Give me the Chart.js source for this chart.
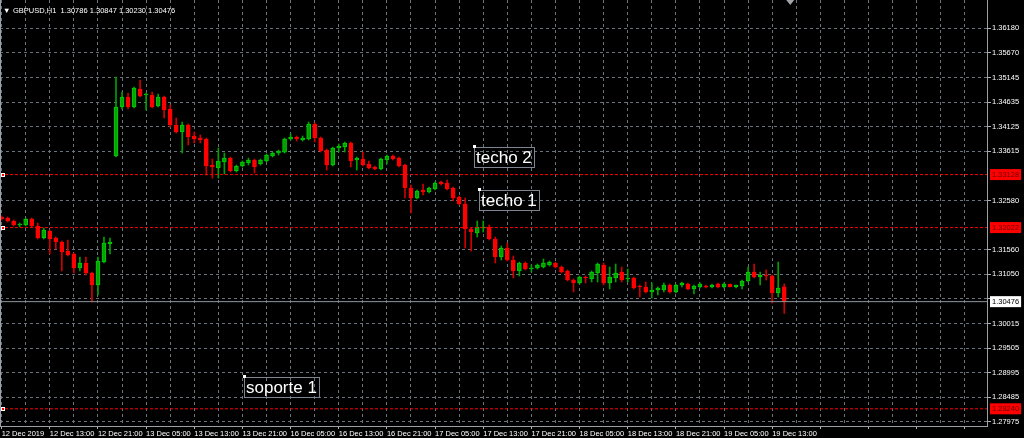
<!DOCTYPE html>
<html>
<head>
<meta charset="utf-8">
<title>GBPUSD,H1</title>
<script src="https://cdn.jsdelivr.net/npm/chart.js@4.4.1/dist/chart.umd.min.js"></script>
<style>
  html, body { margin: 0; padding: 0; background: #000; }
  canvas { display: block; }
</style>
</head>
<body>
<canvas id="priceChart" width="1024" height="438"></canvas>
<script>
/* GBPUSD H1 candles, 12 Dec 2019 05:00 -> 19 Dec 2019 15:00 */

const symbolTitle = 'GBPUSD,H1';

const opens = [
  1.32243, 1.32222, 1.32159, 1.32076, 1.32076, 1.32201, 1.32055, 1.31804, 1.31950, 1.31804,
  1.31721, 1.31533, 1.31471, 1.31178, 1.31282, 1.31074, 1.30824, 1.31303, 1.31679, 1.33515,
  1.34538, 1.34747, 1.34538, 1.34913, 1.34788, 1.34788, 1.34559, 1.34747, 1.34496, 1.34162,
  1.34016, 1.34162, 1.33933, 1.33891, 1.33870, 1.33327, 1.33265, 1.33390, 1.33473, 1.33202,
  1.33307, 1.33369, 1.33432, 1.33348, 1.33411, 1.33515, 1.33578, 1.33598, 1.33870, 1.33912,
  1.33849, 1.33870, 1.34183, 1.33891, 1.33640, 1.33327, 1.33682, 1.33703, 1.33787, 1.33432,
  1.33452, 1.33348, 1.33286, 1.33244, 1.33432, 1.33515, 1.33473, 1.33327, 1.32848, 1.32639,
  1.32806, 1.32764, 1.32827, 1.32973, 1.32952, 1.32848, 1.32660, 1.32514, 1.31992, 1.31909,
  1.32013, 1.32034, 1.31783, 1.31408, 1.31596, 1.31345, 1.31116, 1.31282, 1.31157, 1.31178,
  1.31199, 1.31241, 1.31282, 1.31199, 1.31116, 1.30928, 1.30865, 1.30990, 1.30949, 1.31074,
  1.31241, 1.30865, 1.30970, 1.31095, 1.30949, 1.30970, 1.30803, 1.30782, 1.30678, 1.30719,
  1.30719, 1.30824, 1.30678, 1.30824, 1.30844, 1.30740, 1.30782, 1.30803, 1.30782, 1.30844,
  1.30782, 1.30844, 1.30782, 1.30803, 1.30907, 1.31095, 1.30990, 1.31032, 1.31011, 1.30657,
  1.30786
];

const highs = [
  1.32264, 1.32243, 1.32180, 1.32117, 1.32222, 1.32222, 1.32117, 1.32013, 1.31971, 1.31825,
  1.31742, 1.31763, 1.31491, 1.31408, 1.31408, 1.31095, 1.31408, 1.31825, 1.31804, 1.35164,
  1.34850, 1.34829, 1.34955, 1.35101, 1.34829, 1.34850, 1.34809, 1.34767, 1.34580, 1.34308,
  1.34224, 1.34183, 1.34016, 1.33954, 1.33891, 1.33452, 1.33682, 1.33578, 1.33494, 1.33327,
  1.33411, 1.33473, 1.33452, 1.33452, 1.33557, 1.33598, 1.33640, 1.33891, 1.33975, 1.33933,
  1.33933, 1.34224, 1.34204, 1.33912, 1.33661, 1.33703, 1.33766, 1.33807, 1.33807, 1.33494,
  1.33598, 1.33411, 1.33307, 1.33473, 1.33536, 1.33536, 1.33494, 1.33348, 1.32910, 1.32806,
  1.32931, 1.32869, 1.32973, 1.32994, 1.33015, 1.32869, 1.32681, 1.32639, 1.32013, 1.32159,
  1.32159, 1.32076, 1.31825, 1.31638, 1.31700, 1.31429, 1.31303, 1.31303, 1.31241, 1.31261,
  1.31366, 1.31324, 1.31303, 1.31220, 1.31137, 1.30949, 1.31011, 1.31011, 1.31116, 1.31282,
  1.31282, 1.31199, 1.31261, 1.31199, 1.31157, 1.30990, 1.30824, 1.30886, 1.30865, 1.30782,
  1.30865, 1.30844, 1.30844, 1.30886, 1.30865, 1.30824, 1.30865, 1.30824, 1.30844, 1.30865,
  1.30865, 1.30844, 1.30824, 1.30928, 1.31199, 1.31261, 1.31095, 1.31137, 1.31032, 1.31303,
  1.30847
];

const lows = [
  1.32180, 1.32138, 1.32055, 1.32034, 1.32055, 1.32034, 1.31783, 1.31783, 1.31471, 1.31575,
  1.31116, 1.31429, 1.31074, 1.31116, 1.31032, 1.30469, 1.30615, 1.31282, 1.31471, 1.33494,
  1.34496, 1.34496, 1.34517, 1.34747, 1.34475, 1.34517, 1.34538, 1.34308, 1.34120, 1.33995,
  1.33578, 1.33745, 1.33787, 1.33787, 1.33119, 1.33056, 1.33056, 1.33140, 1.33181, 1.33181,
  1.33286, 1.33327, 1.33161, 1.33327, 1.33390, 1.33494, 1.33536, 1.33578, 1.33849, 1.33828,
  1.33828, 1.33849, 1.33807, 1.33598, 1.33223, 1.33307, 1.33598, 1.33598, 1.33286, 1.33223,
  1.33307, 1.33244, 1.33223, 1.33223, 1.33348, 1.33432, 1.33286, 1.32639, 1.32326, 1.32618,
  1.32702, 1.32743, 1.32806, 1.32910, 1.32806, 1.32576, 1.32493, 1.31596, 1.31533, 1.31825,
  1.31929, 1.31763, 1.31282, 1.31345, 1.31324, 1.30970, 1.31011, 1.31137, 1.31095, 1.31157,
  1.31178, 1.31220, 1.31178, 1.31074, 1.30907, 1.30678, 1.30844, 1.30865, 1.30886, 1.30886,
  1.30824, 1.30740, 1.30886, 1.30886, 1.30886, 1.30740, 1.30574, 1.30657, 1.30553, 1.30615,
  1.30678, 1.30657, 1.30657, 1.30782, 1.30719, 1.30636, 1.30761, 1.30761, 1.30761, 1.30761,
  1.30761, 1.30782, 1.30761, 1.30740, 1.30886, 1.30970, 1.30824, 1.30928, 1.30448, 1.30574,
  1.30230
];

const closes = [
  1.32201, 1.32159, 1.32076, 1.32097, 1.32201, 1.32055, 1.31804, 1.31971, 1.31783, 1.31721,
  1.31512, 1.31450, 1.31178, 1.31282, 1.31074, 1.30824, 1.31324, 1.31700, 1.31721, 1.34538,
  1.34747, 1.34538, 1.34934, 1.34767, 1.34809, 1.34538, 1.34747, 1.34475, 1.34162, 1.34016,
  1.34162, 1.33912, 1.33870, 1.33849, 1.33307, 1.33286, 1.33411, 1.33473, 1.33202, 1.33307,
  1.33390, 1.33432, 1.33286, 1.33432, 1.33536, 1.33578, 1.33619, 1.33870, 1.33912, 1.33870,
  1.33891, 1.34183, 1.33891, 1.33619, 1.33327, 1.33682, 1.33724, 1.33787, 1.33411, 1.33473,
  1.33327, 1.33265, 1.33244, 1.33452, 1.33515, 1.33452, 1.33307, 1.32848, 1.32639, 1.32785,
  1.32764, 1.32848, 1.32952, 1.32931, 1.32827, 1.32639, 1.32514, 1.31992, 1.31929, 1.32034,
  1.32034, 1.31783, 1.31408, 1.31596, 1.31345, 1.31116, 1.31282, 1.31157, 1.31178, 1.31241,
  1.31282, 1.31303, 1.31199, 1.31095, 1.30928, 1.30865, 1.30990, 1.30970, 1.31095, 1.31261,
  1.30865, 1.30990, 1.31074, 1.30928, 1.30970, 1.30761, 1.30782, 1.30678, 1.30719, 1.30761,
  1.30824, 1.30678, 1.30824, 1.30865, 1.30740, 1.30803, 1.30844, 1.30782, 1.30824, 1.30782,
  1.30844, 1.30782, 1.30824, 1.30907, 1.31095, 1.30990, 1.31032, 1.31011, 1.30657, 1.30761,
  1.30476
];

// time axis: one label every 8 bars, grid line every 4 bars
const timeLabels = [
  '12 Dec 2019', '12 Dec 13:00', '12 Dec 21:00', '13 Dec 05:00', '13 Dec 13:00', '13 Dec 21:00',
  '16 Dec 05:00', '16 Dec 13:00', '16 Dec 21:00', '17 Dec 05:00', '17 Dec 13:00', '17 Dec 21:00',
  '18 Dec 05:00', '18 Dec 13:00', '18 Dec 21:00', '19 Dec 05:00', '19 Dec 13:00'
];
const barsPerLabel = 8;
const barsPerGrid = 4;
const X_MIN = -0.27, X_MAX = 163.68;   // visible bar slots incl. right-hand shift

// price scale (1.30540 keeps its grid line, its label sits under the bid label)
const priceTicks = [
  1.36180, 1.35670, 1.35145, 1.34635, 1.34125, 1.33615, 1.32580,
  1.31560, 1.31050, 1.30540, 1.30015, 1.29505, 1.28995, 1.28485, 1.27975
];
const levelPrices = [1.33128, 1.32022, 1.28240];   // red horizontal lines
const bidPrice = closes[closes.length - 1];

// text objects on the chart
const noteTexts = ['techo 2', 'techo 1', 'soporte 1'];
const noteBars = [78.4, 79.25, 40.27];
const notePrices = [1.33734, 1.32837, 1.28914];

const UP_FILL = '#00a000', UP_EDGE = '#00d000', UP_WICK = '#00a000';
const DN_FILL = '#ff0000', DN_EDGE = '#ff0000', DN_WICK = '#d00000';
const GRID = '#6a737c';
const LEVEL = '#ff0000';
const AXIS_FONT = { family: '"Liberation Sans", Arial, sans-serif', size: 7.5 };

const isUp = closes.map((c, i) => c >= opens[i]);
const markers = levelPrices.concat([bidPrice]);
const isMarker = v => markers.some(m => Math.abs(m - v) < 1e-7);
const nearMarker = v => markers.some(m => Math.abs(m - v) < 0.0008);
const yTickValues = priceTicks.concat(markers).sort((a, b) => a - b);

const hLine = (price, color, dash) => ({
  type: 'line',
  data: [{ x: X_MIN, y: price }, { x: X_MAX, y: price }],
  borderColor: color,
  borderWidth: 1,
  borderDash: dash,
  pointRadius: 0,
  fill: false,
  order: -1
});

const overlay = {
  id: 'overlay',
  afterDatasetsDraw(chart) {
    const { ctx, chartArea: a, scales: { x, y } } = chart;
    ctx.save();
    ctx.lineWidth = 1;

    // anchor handles at the start of each level line
    levelPrices.forEach(p => {
      const py = Math.round(y.getPixelForValue(p));
      ctx.fillStyle = '#ffffff';
      ctx.fillRect(a.left + 1, py - 2, 4, 4);
      ctx.fillStyle = LEVEL;
      ctx.fillRect(a.left + 2, py - 1, 2, 2);
    });

    // text objects
    ctx.font = '17px "Liberation Sans", Arial, sans-serif';
    ctx.textBaseline = 'alphabetic';
    ctx.textAlign = 'left';
    noteTexts.forEach((t, i) => {
      const nx = Math.round(x.getPixelForValue(noteBars[i]));
      const ny = Math.round(y.getPixelForValue(notePrices[i]));
      const w = ctx.measureText(t).width;
      ctx.strokeStyle = '#7d8590';
      ctx.strokeRect(nx + 0.5, ny + 1.5, Math.round(w) + 4, 20);
      ctx.fillStyle = '#ffffff';
      ctx.fillText(t, nx + 2, ny + 17);
      ctx.fillRect(nx - 1, ny - 1, 3, 3);
    });

    // chart shift marker
    const sx = x.getPixelForValue(closes.length);
    ctx.fillStyle = '#a0a4a8';
    ctx.beginPath(); ctx.moveTo(sx - 4, a.top); ctx.lineTo(sx + 4, a.top); ctx.lineTo(sx, a.top + 5); ctx.closePath(); ctx.fill();

    // symbol header
    const last = closes.length - 1;
    ctx.font = '7.5px "Liberation Sans", Arial, sans-serif';
    ctx.textBaseline = 'middle';
    ctx.fillStyle = '#ffffff';
    ctx.fillText('\u25BC', a.left + 3, a.top + 11);
    ctx.fillText(symbolTitle + '  ' + [opens[last], highs[last], lows[last], closes[last]].map(v => v.toFixed(5)).join(' '),
      a.left + 13, a.top + 11);

    // left frame
    ctx.strokeStyle = '#9aa0a6';
    ctx.beginPath(); ctx.moveTo(a.left + 0.5, a.top); ctx.lineTo(a.left + 0.5, a.bottom); ctx.stroke();
    ctx.restore();
  }
};

new Chart(document.getElementById('priceChart'), {
  type: 'bar',
  data: {
    datasets: [
      {
        label: 'body',
        data: opens.map((o, i) => ({ x: i, y: [o, closes[i]] })),
        backgroundColor: ctx => isUp[ctx.dataIndex] ? UP_FILL : DN_FILL,
        borderColor: ctx => isUp[ctx.dataIndex] ? UP_EDGE : DN_EDGE,
        borderWidth: 1,
        borderSkipped: false,
        barThickness: 4,
        minBarLength: 1,
        grouped: false,
        order: 0
      },
      {
        label: 'wick',
        data: lows.map((l, i) => ({ x: i, y: [l, highs[i]] })),
        backgroundColor: ctx => isUp[ctx.dataIndex] ? UP_WICK : DN_WICK,
        borderWidth: 0,
        barThickness: 1,
        grouped: false,
        order: 1
      },
      ...levelPrices.map(p => hLine(p, LEVEL, [3, 2])),
      hLine(bidPrice, '#8c959e', [])
    ]
  },
  options: {
    responsive: false,
    animation: false,
    layout: { padding: 0, autoPadding: false },
    plugins: { legend: { display: false }, tooltip: { enabled: false }, title: { display: false } },
    scales: {
      x: {
        type: 'linear',
        min: X_MIN,
        max: X_MAX,
        bounds: 'data',
        offset: false,
        afterBuildTicks: s => {
          s.ticks = [];
          for (let v = 0; v <= 160; v += barsPerGrid) s.ticks.push({ value: v });
        },
        afterFit: s => { s.height = 12; s.paddingLeft = 0; s.paddingRight = 0; },
        ticks: {
          autoSkip: false, maxRotation: 0, minRotation: 0, align: 'start', padding: 0,
          color: '#ffffff', font: AXIS_FONT,
          callback: v => v % barsPerLabel === 0 ? (timeLabels[v / barsPerLabel] || '') : ''
        },
        grid: {
          offset: false,
          color: GRID,
          tickLength: 3,
          tickColor: ctx => ctx.tick && ctx.tick.value % barsPerLabel === 0 ? '#b0b4b8' : 'rgba(0,0,0,0)'
        },
        border: { display: true, color: '#9aa0a6', dash: [3, 3] }
      },
      y: {
        type: 'linear',
        position: 'right',
        min: 1.27881,
        max: 1.36771,
        afterBuildTicks: s => { s.ticks = yTickValues.map(v => ({ value: v })); },
        afterFit: s => { s.width = 37; s.paddingTop = 0; s.paddingBottom = 0; },
        ticks: {
          autoSkip: false, padding: 1, font: AXIS_FONT,
          color: ctx => {
            const v = ctx.tick.value;
            if (v === bidPrice) return '#000000';
            if (isMarker(v)) return '#6a0000';
            return '#ffffff';
          },
          showLabelBackdrop: ctx => isMarker(ctx.tick.value),
          backdropColor: ctx => ctx.tick.value === bidPrice ? '#ffffff' : '#ff0000',
          backdropPadding: { left: 2, right: 2, top: 1, bottom: 1 },
          callback: v => isMarker(v) || !nearMarker(v) ? v.toFixed(5) : ''
        },
        grid: {
          color: ctx => ctx.tick && isMarker(ctx.tick.value) ? 'rgba(0,0,0,0)' : GRID,
          tickLength: 4,
          tickColor: ctx => ctx.tick && isMarker(ctx.tick.value) ? 'rgba(0,0,0,0)' : '#b0b4b8'
        },
        border: { display: true, color: '#9aa0a6', dash: [3, 3] }
      }
    }
  },
  plugins: [overlay]
});
</script>
</body>
</html>
